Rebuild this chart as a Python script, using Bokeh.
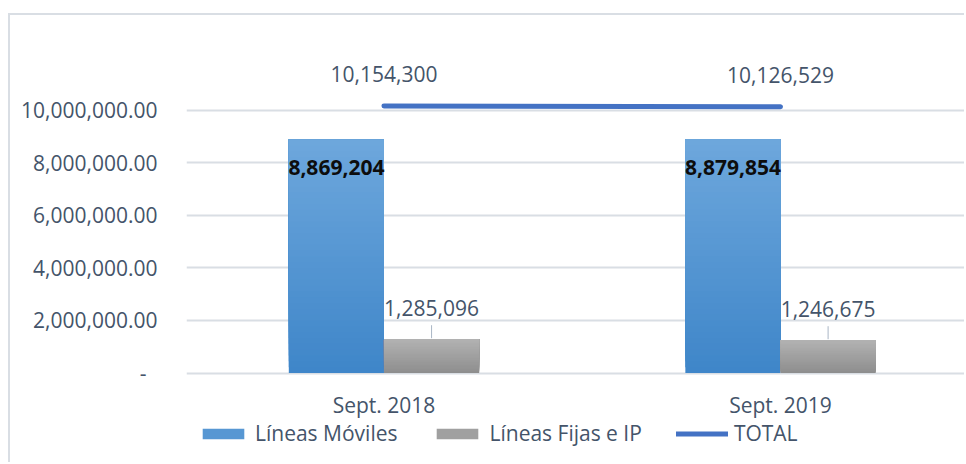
import numpy as np
from bokeh.plotting import figure
from bokeh.models import (ColumnDataSource, Range1d, FixedTicker, NumeralTickFormatter,
                          Legend, LegendItem)
from bokeh.core.properties import value
from bokeh.embed import file_html
from bokeh.resources import INLINE

# ---- data ----
categories = ["Sept. 2018", "Sept. 2019"]
lineas_moviles = [8869204, 8879854]
lineas_fijas = [1285096, 1246675]
total = [10154300, 10126529]
y_ticks = [0, 2000000, 4000000, 6000000, 8000000, 10000000]

# ---- styles ----
FONT = "Open Sans"
TXT = "#44546A"
GRID = "#D9DEE4"
BLUE_TOP, BLUE_BOT = "#6DA7DC", "#3F86C9"
GRAY_TOP, GRAY_BOT = "#B2B2B2", "#8E8E8E"
LINE_COL = "#4472C4"
BAR_W = 0.24
N_STRIPS = 40

W, H = 956, 449
MB_TOP, MB_BOT = 25, 0
FRAME_H = H - MB_TOP - MB_BOT
Y0 = -3479000
Y1 = 12643000
UNITS_PER_PX = (Y1 - Y0) / FRAME_H

xs = np.arange(1, len(categories) + 1)


def hex2rgb(h):
    h = h.lstrip("#")
    return [int(h[i:i + 2], 16) for i in (0, 2, 4)]


def grad_strips(xc, vals, top_col, bot_col, n=N_STRIPS):
    t_rgb, b_rgb = hex2rgb(top_col), hex2rgb(bot_col)
    d = dict(x=[], bottom=[], top=[], color=[])
    for xi, v in zip(xc, vals):
        for i in range(n):
            t = i / (n - 1)
            c = [round(b + (tt - b) * t) for b, tt in zip(b_rgb, t_rgb)]
            d["x"].append(xi)
            d["bottom"].append(v * i / n)
            d["top"].append(v)
            d["color"].append("#%02x%02x%02x" % tuple(c))
    return ColumnDataSource(d)


p = figure(width=W, height=H, output_backend="svg", toolbar_location=None,
           x_range=Range1d(0.502, 2.469), y_range=Range1d(Y0, Y1),
           min_border_left=176, min_border_right=0,
           min_border_top=MB_TOP, min_border_bottom=MB_BOT)
p.margin = (13, 0, 0, 8)
p.outline_line_color = None
p.background_fill_color = "white"
p.border_fill_color = "white"
p.styles = {"border-left": "2px solid " + GRID, "border-top": "2px solid " + GRID}

# bars (vertical gradient built from strips)
src_m = grad_strips(xs - BAR_W / 2, lineas_moviles, BLUE_TOP, BLUE_BOT)
src_f = grad_strips(xs + BAR_W / 2, lineas_fijas, GRAY_TOP, GRAY_BOT)
r_m = p.vbar(x="x", bottom="bottom", top="top", width=BAR_W, fill_color="color",
             line_color=None, source=src_m)
r_f = p.vbar(x="x", bottom="bottom", top="top", width=BAR_W, fill_color="color",
             line_color=None, source=src_f)

# total line
r_t = p.line(xs, total, line_width=5, line_color=LINE_COL, line_cap="round")

# labels
p.text(xs, total, text=[f"{v:,}" for v in total], text_align="center",
       text_baseline="middle", y_offset=-32, text_font=value(FONT),
       text_font_size="21px", text_color=TXT)
p.text(xs - BAR_W / 2, lineas_moviles, text=[f"{v:,}" for v in lineas_moviles],
       text_align="center", text_baseline="middle", y_offset=28,
       text_font=value(FONT), text_font_size="21px", text_font_style="bold",
       text_color="#0D0D0D")
p.text(xs + BAR_W / 2, lineas_fijas, text=[f"{v:,}" for v in lineas_fijas],
       text_align="center", text_baseline="middle", y_offset=-31,
       text_font=value(FONT), text_font_size="21px", text_color=TXT)
fv = np.array(lineas_fijas, dtype=float)
p.segment(x0=xs + BAR_W / 2, y0=fv + 1 * UNITS_PER_PX,
          x1=xs + BAR_W / 2, y1=fv + 14 * UNITS_PER_PX,
          line_color="#A9B6C5", line_width=1)

# category labels under the bars (x axis hidden: legend sits below inside frame)
p.text(xs, [0] * len(xs), text=categories, text_align="center",
       text_baseline="middle", y_offset=32, text_font=value(FONT),
       text_font_size="21px", text_color=TXT)

# axes
p.xaxis.visible = False
p.xgrid.visible = False
p.ygrid.grid_line_color = GRID
p.ygrid.grid_line_width = 2
p.ygrid.ticker = FixedTicker(ticks=y_ticks)

yax = p.yaxis[0]
yax.ticker = FixedTicker(ticks=y_ticks)
yax.formatter = NumeralTickFormatter(format="0,0.00")
yax.major_label_overrides = {0: "-\u00a0\u00a0"}
yax.axis_line_color = None
yax.major_tick_line_color = None
yax.minor_tick_line_color = None
yax.major_tick_out = 0
yax.major_tick_in = 0
yax.major_label_text_font = FONT
yax.major_label_text_font_size = "21px"
yax.major_label_text_color = TXT
yax.major_label_standoff = 29

legend = Legend(items=[
    LegendItem(label="Líneas Móviles", renderers=[r_m], index=N_STRIPS // 2),
    LegendItem(label="Líneas Fijas e IP", renderers=[r_f], index=N_STRIPS // 2),
    LegendItem(label="TOTAL", renderers=[r_t]),
], orientation="horizontal", location=(11, 17), glyph_width=52, glyph_height=13,
    label_standoff=6, spacing=34, padding=0, margin=0, border_line_color=None,
    background_fill_alpha=0, label_text_font=FONT, label_text_font_size="21px",
    label_text_color=TXT)
p.add_layout(legend)

open("out.html", "w").write(file_html(p, INLINE))
